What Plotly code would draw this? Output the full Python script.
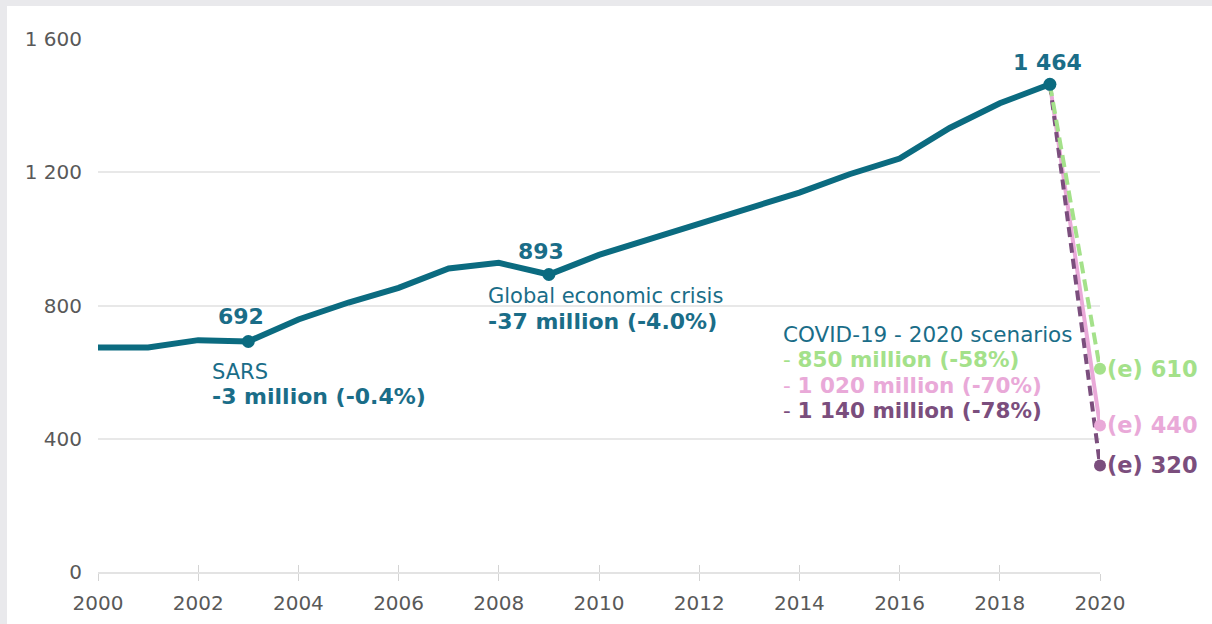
import plotly.graph_objects as go

years = list(range(2000, 2020))
arrivals = [674, 674, 696, 692, 758, 809, 853, 911, 928, 893, 952, 998, 1045, 1092, 1139, 1194, 1241, 1333, 1407, 1464]
highlight_years = [2003, 2009, 2019]
highlight_labels = ["692", "893", "1 464"]

scenario_years = [2019, 2020]
scenario_names = ["850 million (-58%)", "1 020 million (-70%)", "1 140 million (-78%)"]
scenario_end = [610, 440, 320]
scenario_colors = ["#a4e18a", "#e9a9d8", "#7b4e7d"]
scenario_dash = ["12px,6px", "solid", "10px,6px"]

y_ticks = [0, 400, 800, 1200, 1600]
y_ticktext = ["0", "400", "800", "1 200", "1 600"]
x_ticks = list(range(2000, 2021, 2))

TEAL = "#0b6b80"
TEXT_TEAL = "#1a6d88"
FONT = "DejaVu Sans"
BOLD_SIZE = 22
REG_SIZE = 21

fig = go.Figure()

# scenario lines: pink, purple, green order
for i in [1, 2, 0]:
    fig.add_trace(go.Scatter(
        x=scenario_years, y=[arrivals[-1], scenario_end[i]],
        mode="lines", line=dict(color=scenario_colors[i], width=4, dash=scenario_dash[i]),
        hoverinfo="skip", showlegend=False, cliponaxis=False))
for i in range(3):
    fig.add_trace(go.Scatter(
        x=[scenario_years[1]], y=[scenario_end[i]], mode="markers",
        marker=dict(color=scenario_colors[i], size=12),
        hoverinfo="skip", showlegend=False, cliponaxis=False))

fig.add_trace(go.Scatter(
    x=years, y=arrivals, mode="lines", line=dict(color=TEAL, width=6),
    hoverinfo="skip", showlegend=False, cliponaxis=False))
hy = [arrivals[years.index(y)] for y in highlight_years]
fig.add_trace(go.Scatter(
    x=highlight_years, y=hy, mode="markers", marker=dict(color=TEAL, size=13),
    hoverinfo="skip", showlegend=False, cliponaxis=False))

# second x-axis for inside ticks
fig.add_trace(go.Scatter(x=[2000, 2020], y=[None, None], xaxis="x2", yaxis="y",
                         showlegend=False, hoverinfo="skip"))

ann = []
shifts = [(-7, 25), (-8, 23), (-2, 22)]
for (yr, lab, (dx, dy)) in zip(highlight_years, highlight_labels, shifts):
    ann.append(dict(x=yr, y=arrivals[years.index(yr)], text="<b>%s</b>" % lab,
                    xshift=dx, yshift=dy, showarrow=False, xanchor="center", yanchor="middle",
                    font=dict(family=FONT, size=BOLD_SIZE, color=TEXT_TEAL)))

def txt(x, y, t, color=TEXT_TEAL, size=REG_SIZE):
    ann.append(dict(x=x, y=y, text=t, showarrow=False, xanchor="left", yanchor="middle",
                    font=dict(family=FONT, size=size, color=color)))

txt(2002.235, 600, "SARS")
txt(2002.235, 528, "<b>-3 million (-0.4%)</b>", size=BOLD_SIZE)
txt(2007.745, 828, "Global economic crisis")
txt(2007.745, 753, "<b>-37 million (-4.0%)</b>", size=BOLD_SIZE)
txt(2013.63, 714, "COVID-19 - 2020 scenarios", size=21.5)
covid_y = [639, 561, 486]
for i in range(3):
    txt(2013.63, covid_y[i], "- <b>%s</b>" % scenario_names[i], color=scenario_colors[i],
        size=BOLD_SIZE - 0.5)
for i in range(3):
    ann.append(dict(x=2020, y=scenario_end[i], text="<b>(e) %d</b>" % scenario_end[i],
                    xshift=5, showarrow=False, xanchor="left", yanchor="middle",
                    font=dict(family=FONT, size=BOLD_SIZE + 0.5, color=scenario_colors[i])))

shapes = [
    dict(type="rect", xref="paper", yref="paper", x0=-0.0908, x1=1.2, y0=-0.2, y1=1.0619,
         fillcolor="white", line=dict(width=0), layer="below"),
]

fig.update_layout(
    width=1212, height=624,
    margin=dict(l=98, r=112, t=39, b=52, autoexpand=False),
    paper_bgcolor="#e9e9ec", plot_bgcolor="rgba(0,0,0,0)",
    showlegend=False,
    annotations=ann, shapes=shapes,
    xaxis=dict(range=[2000, 2020], tickvals=x_ticks, showgrid=False, zeroline=False,
               automargin=False,
               showline=True, linecolor="#e3e3e3", linewidth=2,
               ticks="outside", ticklen=7, tickwidth=1, tickcolor="#d4d4d4",
               ticklabelstandoff=5,
               tickfont=dict(family=FONT, size=20, color="#595959")),
    xaxis2=dict(range=[2000, 2020], tickvals=x_ticks, overlaying="x", side="bottom",
                automargin=False,
                showgrid=False, zeroline=False, showline=False, showticklabels=False,
                ticks="inside", ticklen=7, tickwidth=1, tickcolor="#d4d4d4"),
    yaxis=dict(range=[0, 1600], tickvals=y_ticks, ticktext=y_ticktext,
               automargin=False,
               showgrid=True, gridcolor="#e8e8e8", gridwidth=2, zeroline=False,
               showline=False, ticks="", ticklabelstandoff=15,
               tickfont=dict(family=FONT, size=20, color="#595959")),
)

fig.write_html("out.html", config={"displayModeBar": False},
               post_script="document.body.style.margin='0';")
